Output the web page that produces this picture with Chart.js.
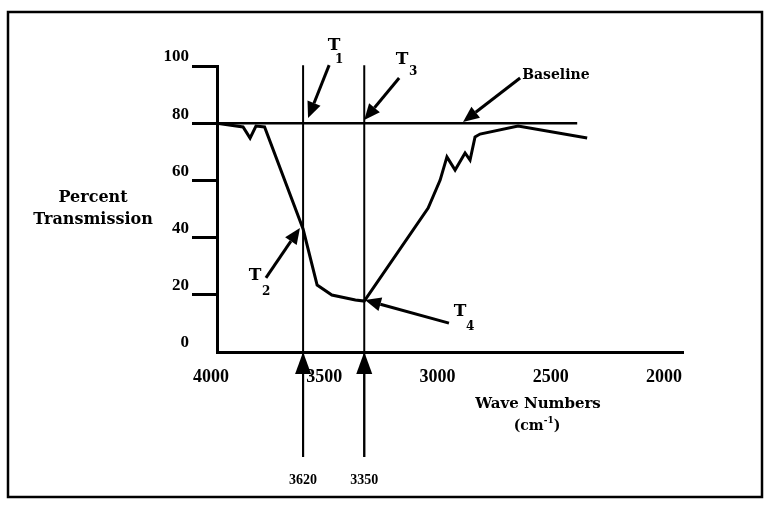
<!DOCTYPE html>
<html><head><meta charset="utf-8">
<script src="https://cdn.jsdelivr.net/npm/chart.js@4/dist/chart.umd.min.js"></script>
<style>html,body{margin:0;padding:0;background:#fff;}canvas{display:block;}</style>
</head><body>
<canvas id="c" width="770" height="510"></canvas>
<script>
// ---- data (wave numbers in cm-1, percent transmission) ----
const curveWave  = [4000, 3885, 3854, 3828, 3790, 3620, 3558, 3493, 3389, 3350, 3068, 3015, 2985, 2949, 2905, 2883, 2861, 2839, 2671, 2366];
const curveTrans = [80,   78.7, 74.8, 79.0, 78.7, 43.0, 23.4, 19.9, 18.2, 17.8, 50.3, 60.1, 68.2, 63.6, 69.6, 67.1, 75.2, 76.2, 79.0, 74.8];
const baselineWave  = [4000, 2410];
const baselineTrans = [80, 80];
const markerWave   = [3620, 3350];
const markerLabels = ['3620', '3350'];
const markerTop = 100.3, markerBottom = -36.7, markerLabelTrans = -44.8;
const xTickValues = [4000, 3500, 3000, 2500, 2000];
const yTickValues = [0, 20, 40, 60, 80, 100];
const tNames = ['T', 'T', 'T', 'T'];
const tSubs  = ['1', '2', '3', '4'];
const tLabelWave  = [3483, 3832, 3183, 2927];
const tLabelTrans = [107.3, 26.6, 102.1, 14.3];
const arrowFromWave  = [3505, 3784, 3196, 2976, 2662];
const arrowFromTrans = [100.3, 25.9, 95.8, 10.1, 95.8];
const arrowToWave    = [3598, 3634, 3350, 3347, 2914];
const arrowToTrans   = [81.8, 43.4, 81.1, 18.2, 80.4];
const baselineLabel = 'Baseline';
const baselineLabelWave = 2653, baselineLabelTrans = 96.9;
const yTitleLines = ['Percent', 'Transmission'];
const xTitle = 'Wave Numbers';
const xUnitBase = '(cm', xUnitSup = '-1', xUnitEnd = ')';

const SERIF = '"DejaVu Serif", serif';

function arrow(ctx, x1, y1, x2, y2, len, half, lw) {
  const a = Math.atan2(y2 - y1, x2 - x1);
  const bx = x2 - len * Math.cos(a), by = y2 - len * Math.sin(a);
  ctx.lineWidth = lw;
  ctx.beginPath(); ctx.moveTo(x1, y1); ctx.lineTo(bx, by); ctx.stroke();
  ctx.beginPath();
  ctx.moveTo(x2, y2);
  ctx.lineTo(bx + half * Math.sin(a), by - half * Math.cos(a));
  ctx.lineTo(bx - half * Math.sin(a), by + half * Math.cos(a));
  ctx.closePath(); ctx.fill();
}

const annot = {
  id: 'annot',
  afterDraw(chart) {
    const ctx = chart.ctx, xs = chart.scales.x, ys = chart.scales.y;
    const X = v => xs.getPixelForValue(v), Y = v => ys.getPixelForValue(v);
    ctx.save();
    ctx.strokeStyle = '#000'; ctx.fillStyle = '#000';
    // frame
    ctx.lineWidth = 2.5;
    ctx.strokeRect(8, 12, 754, 485);
    // marker lines + bottom arrows + labels
    markerWave.forEach((w, i) => {
      ctx.lineWidth = 2;
      ctx.beginPath(); ctx.moveTo(X(w), Y(markerTop)); ctx.lineTo(X(w), Y(markerBottom)); ctx.stroke();
      arrow(ctx, X(w), Y(markerBottom), X(w), Y(0), 22, 8, 2);
      ctx.font = 'bold 14px "Liberation Serif", serif';
      ctx.textAlign = 'center'; ctx.textBaseline = 'middle';
      ctx.fillText(markerLabels[i], X(w), Y(markerLabelTrans));
    });
    // pointer arrows
    arrowFromWave.forEach((w, i) => {
      arrow(ctx, X(w), Y(arrowFromTrans[i]), X(arrowToWave[i]), Y(arrowToTrans[i]), 16, 7, 3);
    });
    // T labels
    const subOff = [[5, 15], [11, 16], [11, 12], [10, 16]];
    tNames.forEach((t, i) => {
      const x = X(tLabelWave[i]), y = Y(tLabelTrans[i]);
      ctx.textAlign = 'center'; ctx.textBaseline = 'middle';
      ctx.font = 'bold 17px ' + SERIF;
      ctx.fillText(t, x, y);
      ctx.font = 'bold 12px ' + SERIF;
      ctx.fillText(tSubs[i], x + subOff[i][0], y + subOff[i][1]);
    });
    // Baseline label
    ctx.font = 'bold 14px ' + SERIF;
    ctx.textAlign = 'left'; ctx.textBaseline = 'middle';
    ctx.fillText(baselineLabel, X(baselineLabelWave), Y(baselineLabelTrans));
    // y title
    ctx.font = 'bold 16px ' + SERIF;
    ctx.textAlign = 'center';
    ctx.fillText(yTitleLines[0], 93, 198);
    ctx.fillText(yTitleLines[1], 93, 220);
    // x title
    ctx.font = 'bold 15px ' + SERIF;
    ctx.fillText(xTitle, 538, 404);
    ctx.font = 'bold 14px ' + SERIF;
    const wb = ctx.measureText(xUnitBase).width, we = ctx.measureText(xUnitEnd).width;
    ctx.font = 'bold 9px ' + SERIF;
    const ws = ctx.measureText(xUnitSup).width;
    let sx = 537 - (wb + ws + we) / 2;
    ctx.textAlign = 'left';
    ctx.font = 'bold 14px ' + SERIF;
    ctx.fillText(xUnitBase, sx, 426);
    ctx.font = 'bold 9px ' + SERIF;
    ctx.fillText(xUnitSup, sx + wb, 421);
    ctx.font = 'bold 14px ' + SERIF;
    ctx.fillText(xUnitEnd, sx + wb + ws, 426);
    ctx.restore();
  }
};

new Chart(document.getElementById('c'), {
  type: 'scatter',
  data: {
    datasets: [
      { data: curveWave.map((w, i) => ({ x: w, y: curveTrans[i] })), showLine: true,
        borderColor: '#000', borderWidth: 3, pointRadius: 0, tension: 0, clip: false },
      { data: baselineWave.map((w, i) => ({ x: w, y: baselineTrans[i] })), showLine: true,
        borderColor: '#000', borderWidth: 2.5, pointRadius: 0, clip: false }
    ]
  },
  options: {
    responsive: false, animation: false, devicePixelRatio: 1,
    layout: { padding: { left: 0, top: 66, right: 87, bottom: 0 } },
    plugins: { legend: { display: false }, tooltip: { enabled: false } },
    scales: {
      x: {
        type: 'linear', reverse: true, min: 1943, max: 4000,
        afterBuildTicks: s => { s.ticks = xTickValues.map(v => ({ value: v })); },
        afterFit: s => { s.height = 158; },
        grid: { display: false },
        border: { display: true, color: '#000', width: 3 },
        ticks: { color: '#000', padding: 7, labelOffset: -6, maxRotation: 0, autoSkip: false,
                 callback: v => String(v),
                 font: { family: '"Liberation Serif", serif', weight: 'bold', size: 18 } }
      },
      y: {
        type: 'linear', min: 0, max: 100,
        afterBuildTicks: s => { s.ticks = yTickValues.map(v => ({ value: v })); },
        afterFit: s => { s.width = 217; },
        grid: { display: true, drawOnChartArea: false, drawTicks: true, tickLength: 25, tickWidth: 3,
                tickColor: c => (c.tick && c.tick.value === 0) ? 'rgba(0,0,0,0)' : '#000' },
        border: { display: true, color: '#000', width: 3 },
        ticks: { color: '#000', padding: 3, labelOffset: -9, callback: v => String(v),
                 font: { family: '"Liberation Serif", serif', weight: 'bold', size: 17 } }
      }
    }
  },
  plugins: [annot]
});
</script>
</body></html>
